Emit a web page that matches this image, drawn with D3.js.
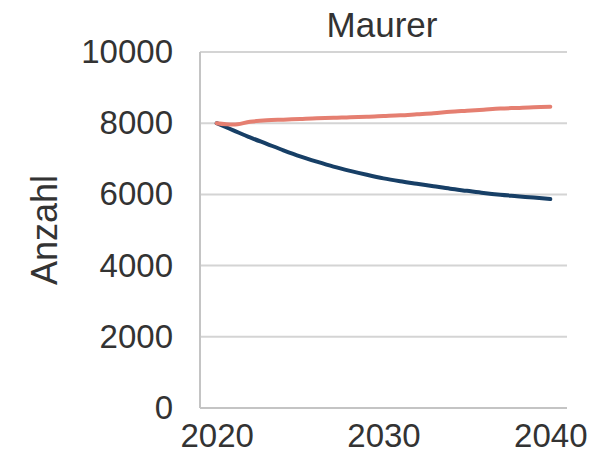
<!DOCTYPE html>
<html>
<head>
<meta charset="utf-8">
<script src="https://cdn.jsdelivr.net/npm/d3@7"></script>
<style>
  html, body { margin: 0; padding: 0; background: #fff; }
  svg { display: block; font-family: "Liberation Sans", Arial, sans-serif; }
</style>
</head>
<body>
<svg id="chart" width="597" height="466"></svg>
<script>
// Projected number of masons (Maurer), two scenarios, 2020–2040
const years = d3.range(2020, 2041);
const rising = [8000, 7960, 8040, 8080, 8100, 8120, 8140, 8150, 8170, 8180, 8200,
                8220, 8250, 8280, 8320, 8350, 8380, 8410, 8430, 8450, 8460];
const falling = [8000, 7800, 7600, 7420, 7240, 7070, 6920, 6780, 6660, 6550, 6450,
                 6370, 6300, 6230, 6160, 6100, 6040, 5990, 5950, 5910, 5870];
const yTicks = [0, 2000, 4000, 6000, 8000, 10000];
const xTicks = [2020, 2030, 2040];

const title = "Maurer";
const yLabel = "Anzahl";

const svg = d3.select("#chart");
const plot = { left: 200, right: 567, top: 52, bottom: 408 };

const x = d3.scaleLinear().domain([2019, 2041]).range([plot.left, plot.right]);
const y = d3.scaleLinear().domain([0, 10000]).range([plot.bottom, plot.top]);

// horizontal gridlines
svg.append("g")
  .selectAll("line")
  .data(yTicks.filter(d => d > 0))
  .join("line")
  .attr("x1", plot.left).attr("x2", plot.right)
  .attr("y1", d => y(d)).attr("y2", d => y(d))
  .attr("stroke", "#d4d4d4").attr("stroke-width", 2);

// axes
const yAxis = svg.append("g")
  .attr("transform", `translate(${plot.left},0)`)
  .call(d3.axisLeft(y).tickValues(yTicks).tickSize(0).tickPadding(27).tickFormat(d3.format("d")));
const xAxis = svg.append("g")
  .attr("transform", `translate(0,${plot.bottom})`)
  .call(d3.axisBottom(x).tickValues(xTicks).tickSize(0).tickPadding(16).tickFormat(d3.format("d")));

[yAxis, xAxis].forEach(g => {
  g.select(".domain").attr("stroke", "#c4c4c4").attr("stroke-width", 2);
  g.selectAll("text")
    .attr("font-family", "'Liberation Sans', Arial, sans-serif")
    .attr("font-size", 33)
    .attr("fill", "#333");
});
xAxis.select(".domain").attr("d", `M${plot.left},0H${plot.right}`);
yAxis.select(".domain").attr("d", `M0,${plot.bottom}V${plot.top}`);

// series lines
const line = d3.line()
  .x((d, i) => x(years[i]))
  .y(d => y(d))
  .curve(d3.curveMonotoneX);

svg.append("path")
  .datum(falling)
  .attr("d", line)
  .attr("fill", "none")
  .attr("stroke", "#173f66")
  .attr("stroke-width", 4)
  .attr("stroke-linecap", "round");

svg.append("path")
  .datum(rising)
  .attr("d", line)
  .attr("fill", "none")
  .attr("stroke", "#e57f71")
  .attr("stroke-width", 4)
  .attr("stroke-linecap", "round");

// title
svg.append("text")
  .attr("x", 382).attr("y", 37)
  .attr("text-anchor", "middle")
  .attr("font-size", 35)
  .attr("fill", "#333")
  .text(title);

// y-axis label
svg.append("text")
  .attr("transform", "translate(57,230) rotate(-90)")
  .attr("text-anchor", "middle")
  .attr("font-size", 36)
  .attr("fill", "#333")
  .text(yLabel);
</script>
</body>
</html>
